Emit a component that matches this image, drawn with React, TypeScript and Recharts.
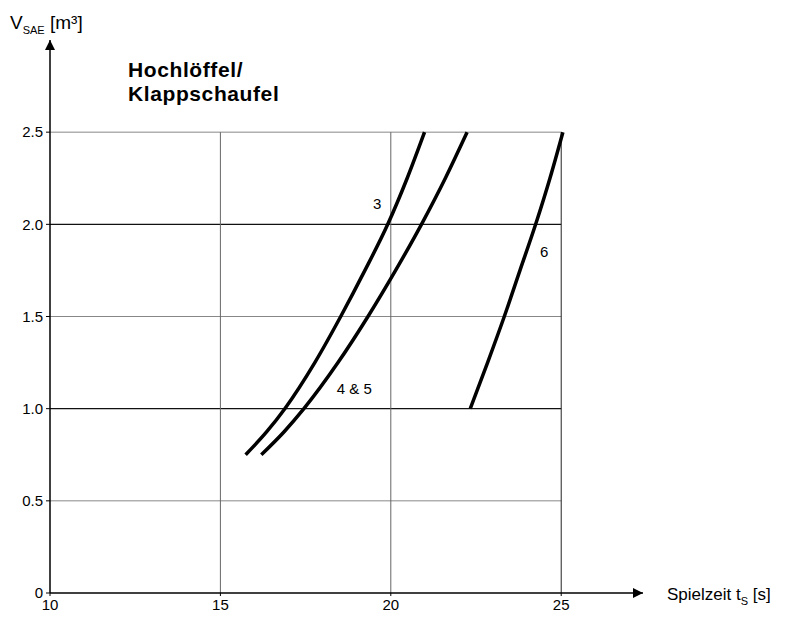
import { LineChart, Line, XAxis, YAxis, ReferenceLine, ReferenceDot } from 'recharts';

// t_S [s] vs V_SAE [m³]
const curve3 = [
  { t: 15.74, v: 0.75 },
  { t: 16.36, v: 0.875 },
  { t: 16.89, v: 1.0 },
  { t: 17.77, v: 1.25 },
  { t: 18.53, v: 1.5 },
  { t: 19.24, v: 1.75 },
  { t: 19.91, v: 2.0 },
  { t: 20.48, v: 2.25 },
  { t: 20.99, v: 2.5 },
];

const curve45 = [
  { t: 16.2, v: 0.75 },
  { t: 16.87, v: 0.875 },
  { t: 17.45, v: 1.0 },
  { t: 18.45, v: 1.25 },
  { t: 19.33, v: 1.5 },
  { t: 20.14, v: 1.75 },
  { t: 20.9, v: 2.0 },
  { t: 21.6, v: 2.25 },
  { t: 22.24, v: 2.5 },
];

const curve6 = [
  { t: 22.33, v: 1.0 },
  { t: 22.84, v: 1.25 },
  { t: 23.33, v: 1.5 },
  { t: 23.79, v: 1.75 },
  { t: 24.25, v: 2.0 },
  { t: 24.67, v: 2.25 },
  { t: 25.05, v: 2.5 },
];

const curveLabels = [
  { text: '3', t: 19.6, v: 2.11 },
  { text: '6', t: 24.5, v: 1.85 },
  { text: '4 & 5', t: 18.93, v: 1.11 },
];

const xTicks = [10, 15, 20, 25];
const yTicks = [0, 0.5, 1.0, 1.5, 2.0, 2.5];
const gridX = [15, 20, 25];
const gridY = [0.5, 1.0, 1.5, 2.0, 2.5];
const darkGridY = [1.0, 2.0];

const font = '"Liberation Sans", Arial, sans-serif';

export default function App() {
  return (
    <div style={{ position: 'absolute', left: 0, top: 0, width: 795, height: 617, background: '#fff', fontFamily: font }}>
      <svg width={0} height={0} style={{ position: 'absolute' }}>
        <defs>
          <marker id="arrow" viewBox="0 0 10 10" refX="10" refY="5" markerWidth="12" markerHeight="10" markerUnits="userSpaceOnUse" orient="auto-start-reverse">
            <path d="M0,0 L10,5 L0,10 z" fill="#000" />
          </marker>
        </defs>
      </svg>
      <LineChart width={795} height={617} margin={{ top: 40, right: 152, left: 0, bottom: 0 }}>
        <XAxis
          type="number"
          dataKey="t"
          domain={[10, 27.4]}
          ticks={xTicks}
          allowDataOverflow
          height={24}
          tickSize={3}
          tickMargin={3}
          tick={{ fill: '#000', fontSize: 15, fontFamily: font }}
          axisLine={{ stroke: '#000', strokeWidth: 1.5, markerEnd: 'url(#arrow)' }}
          tickLine={{ stroke: '#000' }}
        />
        <YAxis
          type="number"
          dataKey="v"
          domain={[0, 3.0]}
          ticks={yTicks}
          allowDataOverflow
          width={50}
          tickSize={4}
          tickMargin={3}
          tickFormatter={(v: number) => (v === 0 ? '0' : v.toFixed(1))}
          tick={{ fill: '#000', fontSize: 15, fontFamily: font }}
          axisLine={{ stroke: '#000', strokeWidth: 1.5, markerStart: 'url(#arrow)' }}
          tickLine={{ stroke: '#000' }}
        />
        {gridY.map((y) => (
          <ReferenceLine
            key={'gy' + y}
            segment={[{ x: 10, y }, { x: 25, y }]}
            stroke={darkGridY.includes(y) ? '#111' : '#888'}
            strokeWidth={darkGridY.includes(y) ? 1.2 : 1}
          />
        ))}
        {gridX.map((x) => (
          <ReferenceLine
            key={'gx' + x}
            segment={[{ x, y: 0 }, { x, y: 2.5 }]}
            stroke={x === 25 ? '#222' : '#666'}
            strokeWidth={1}
          />
        ))}
        <Line data={curve3} dataKey="v" type="monotone" stroke="#000" strokeWidth={3.5} dot={false} isAnimationActive={false} />
        <Line data={curve45} dataKey="v" type="monotone" stroke="#000" strokeWidth={3.5} dot={false} isAnimationActive={false} />
        <Line data={curve6} dataKey="v" type="monotone" stroke="#000" strokeWidth={3.5} dot={false} isAnimationActive={false} />
        {curveLabels.map((l) => (
          <ReferenceDot
            key={l.text}
            x={l.t}
            y={l.v}
            r={0}
            fill="none"
            stroke="none"
            label={{ value: l.text, position: 'center', fill: '#000', fontSize: 15, fontFamily: font }}
          />
        ))}
      </LineChart>
      <svg width={795} height={617} style={{ position: 'absolute', left: 0, top: 0, pointerEvents: 'none' }}>
        <text x={10} y={29} fontSize={19} fontFamily={font} fill="#000">
          V<tspan fontSize={11} dy={5}>SAE</tspan>
          <tspan dy={-5}> [m³]</tspan>
        </text>
        <text x={128} y={77} fontSize={21} fontWeight="bold" fontFamily={font} fill="#000" letterSpacing={0.6}>
          Hochlöffel/
        </text>
        <text x={128} y={101} fontSize={21} fontWeight="bold" fontFamily={font} fill="#000" letterSpacing={0.6}>
          Klappschaufel
        </text>
        <text x={667} y={600} fontSize={17} fontFamily={font} fill="#000">
          Spielzeit t<tspan fontSize={11} dy={5}>S</tspan>
          <tspan dy={-5}> [s]</tspan>
        </text>
      </svg>
    </div>
  );
}
